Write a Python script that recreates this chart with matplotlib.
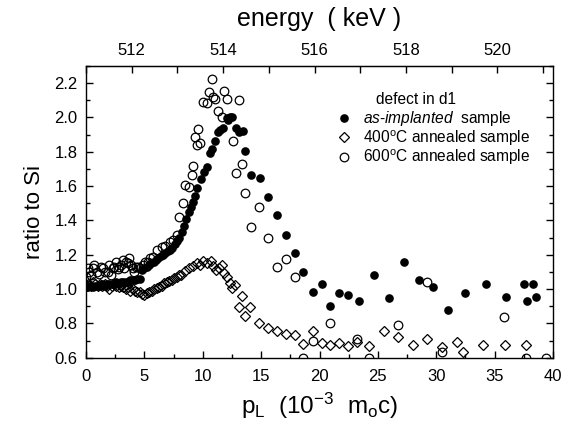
import matplotlib
matplotlib.use("Agg")
import matplotlib.pyplot as plt
from matplotlib.ticker import MultipleLocator, FixedLocator, NullFormatter, FormatStrFormatter

plt.rcParams["font.family"] = ["Liberation Sans", "DejaVu Sans"]
plt.rcParams["mathtext.fontset"] = "custom"
plt.rcParams["mathtext.rm"] = "Liberation Sans"
plt.rcParams["mathtext.it"] = "Liberation Sans:italic"

# ---- data: momentum p_L (10^-3 m0c) and ratio to Si ----
p_implanted = [0.0, 0.2, 0.4, 0.6, 0.8, 1.0, 1.2, 1.4, 1.6, 1.8, 2.0, 2.2, 2.4, 2.6, 2.8,
               3.0, 3.2, 3.4, 3.6, 3.8, 4.0, 4.2, 4.4, 4.6, 4.8, 5.0, 5.2, 5.4, 5.6, 5.8,
               6.0, 6.2, 6.4, 6.6, 6.8, 7.0, 7.2, 7.4, 7.6, 7.8, 8.0, 8.2, 8.4, 8.6, 8.8,
               9.0, 9.15, 9.34, 9.53, 9.82, 10.13, 10.34, 10.62, 10.82, 11.05, 11.28, 11.48,
               11.76, 12.05, 12.14, 12.33, 12.53, 12.85, 13.13, 13.42, 13.62, 14.1, 14.9,
               15.62, 16.4, 17.1, 17.9, 18.6, 19.4, 20.2, 20.9, 21.7, 22.4, 23.4, 24.7,
               25.95, 27.2, 28.5, 29.75, 31.0, 32.5, 34.3, 36.0, 37.5, 37.8, 38.3, 38.5]
r_implanted = [1.01, 1.01, 1.02, 1.01, 1.02, 1.02, 1.02, 1.03, 1.02, 1.03, 1.03, 1.03, 1.03, 1.04, 1.03,
               1.04, 1.04, 1.04, 1.04, 1.05, 1.05, 1.05, 1.06, 1.06, 1.11, 1.12, 1.13, 1.14, 1.15, 1.16,
               1.17, 1.18, 1.19, 1.20, 1.21, 1.22, 1.23, 1.24, 1.26, 1.28, 1.30, 1.33, 1.37, 1.41, 1.45,
               1.48, 1.51, 1.54, 1.59, 1.64, 1.68, 1.71, 1.795, 1.815, 1.865, 1.918, 1.928,
               1.938, 1.996, 1.986, 2.005, 2.00, 1.938, 1.918, 1.922, 1.807, 1.665, 1.646,
               1.535, 1.43, 1.315, 1.21, 1.10, 0.985, 1.03, 0.90, 0.975, 0.964, 0.93, 1.08,
               0.95, 1.16, 1.05, 1.01, 0.88, 0.975, 1.03, 0.955, 1.03, 0.93, 1.03, 0.955]

p_400 = [0.0, 0.2, 0.4, 0.6, 0.8, 1.0, 1.2, 1.4, 1.6, 1.8, 2.0, 2.2, 2.4, 2.6, 2.8,
         3.0, 3.2, 3.4, 3.6, 3.8, 4.0, 4.2, 4.4, 4.6, 4.8, 5.0, 5.2, 5.43, 5.65, 5.85,
         6.05, 6.28, 6.5, 6.7, 6.9, 7.14, 7.35, 7.57, 7.8, 8.0, 8.14, 8.48, 8.85, 9.19,
         9.48, 9.76, 10.05, 10.39, 10.68, 10.9, 11.13, 11.42, 11.62, 11.85, 12.05, 12.33,
         12.48, 12.76, 13.13, 13.33, 13.62, 14.05, 14.85, 15.56, 16.33, 17.13, 17.9,
         18.6, 19.4, 20.2, 20.9, 21.7, 22.4, 23.2, 24.2, 25.5, 26.7, 28.0, 29.2, 30.5,
         31.75, 32.3, 34.0, 35.9, 37.7]
r_400 = [1.02, 1.03, 1.02, 1.04, 1.03, 1.02, 1.03, 1.02, 1.03, 1.02, 1.00, 1.02, 1.03, 1.02, 1.01,
         1.02, 1.01, 1.00, 1.01, 0.99, 1.00, 0.99, 0.98, 0.98, 0.97, 0.966, 0.975, 0.985, 0.99, 0.999,
         1.005, 1.014, 1.02, 1.034, 1.04, 1.049, 1.055, 1.063, 1.07, 1.082, 1.082, 1.107, 1.121, 1.135,
         1.150, 1.141, 1.164, 1.150, 1.164, 1.136, 1.111, 1.121, 1.141, 1.096, 1.072, 1.037,
         1.005, 1.024, 0.897, 0.96, 0.843, 0.897, 0.804, 0.775, 0.756, 0.738, 0.732,
         0.68, 0.756, 0.684, 0.674, 0.687, 0.668, 0.693, 0.668, 0.756, 0.72, 0.672, 0.707, 0.665,
         0.693, 0.635, 0.675, 0.672, 0.676]

p_600 = [0.0, 0.15, 0.28, 0.43, 0.6, 0.71, 0.9, 1.14, 1.3, 1.43, 1.6, 1.86, 2.0, 2.14, 2.3,
         2.43, 2.6, 2.71, 2.85, 3.0, 3.15, 3.28, 3.45, 3.57, 3.71, 3.85, 4.0, 4.14, 4.3, 4.43,
         4.6, 4.85, 5.05, 5.28, 5.48, 5.77, 6.05, 6.48, 6.77, 7.2, 7.48, 7.77, 8.0, 8.28,
         8.48, 8.85, 9.05, 9.19, 9.34, 9.48, 9.62, 9.76, 10.05, 10.34, 10.56, 10.82, 10.9,
         11.05, 11.33, 11.62, 11.82, 12.05, 12.6, 12.85, 13.1, 13.39, 13.6, 14.1, 14.85,
         15.6, 16.4, 17.1, 17.9, 18.6, 19.4, 20.9, 23.2, 24.2, 26.7, 29.2, 30.5, 35.8,
         37.7, 39.4]
r_600 = [1.07, 1.12, 1.10, 1.08, 1.12, 1.14, 1.10, 1.09, 1.13, 1.12, 1.10, 1.10, 1.14, 1.08, 1.12,
         1.13, 1.16, 1.115, 1.13, 1.14, 1.17, 1.12, 1.16, 1.15, 1.18, 1.14, 1.12, 1.10, 1.13, 1.13,
         1.12, 1.14, 1.16, 1.16, 1.18, 1.189, 1.228, 1.247, 1.25, 1.276, 1.286, 1.315, 1.422, 1.50,
         1.607, 1.594, 1.665, 1.718, 1.885, 1.84, 1.933, 1.85, 2.093, 2.087, 2.148, 2.223, 2.12,
         2.11, 2.035, 2.002, 2.155, 2.11, 1.86, 1.675, 2.10, 1.728, 1.562, 1.36, 1.48,
         1.30, 1.127, 1.175, 1.07, 0.60, 0.70, 0.80, 0.71, 0.60, 0.79, 1.04, 0.635, 0.84,
         0.60, 0.60]

labels = [r"$\mathit{as}$-$\mathit{implanted}$  sample",
          r"400$^{\rm o}$C annealed sample",
          r"600$^{\rm o}$C annealed sample"]
legend_title = "defect in d1"


def p_to_energy(p):
    return 511.0 + 0.2555 * p


def energy_to_p(e):
    return (e - 511.0) / 0.2555


fig = plt.figure(figsize=(5.75, 4.28), dpi=100)
ax = fig.add_axes([0.1496, 0.1643, 0.8122, 0.6815])

h1, = ax.plot(p_implanted, r_implanted, "o", ms=5.2, color="black", mec="black",
              linestyle="none", zorder=3)
h2, = ax.plot(p_400, r_400, "D", ms=5.6, mfc="none", mec="black", mew=0.9,
              linestyle="none", zorder=2)
h3, = ax.plot(p_600, r_600, "o", ms=6.2, mfc="none", mec="black", mew=0.9,
              linestyle="none", zorder=2)

ax.set_xlim(0, 40)
ax.set_ylim(0.6, 2.3)
ax.xaxis.set_major_locator(MultipleLocator(5))
ax.xaxis.set_minor_locator(MultipleLocator(2.5))
ax.yaxis.set_major_locator(MultipleLocator(0.2))
ax.yaxis.set_minor_locator(MultipleLocator(0.1))
ax.yaxis.set_major_formatter(FormatStrFormatter("%.1f"))
ax.tick_params(which="both", direction="in", bottom=True, left=True, right=True,
               top=False, labelsize=12, width=1.0)
ax.tick_params(which="major", length=5)
ax.tick_params(which="minor", length=3)
ax.tick_params(axis="x", pad=8)
ax.tick_params(axis="y", pad=6)
for s in ax.spines.values():
    s.set_linewidth(1.0)

ax.set_xlabel(r"p$_{\rm L}$  (10$^{{-}3}$  m$_{\rm o}$c)", fontsize=17.5, labelpad=5)
ax.set_ylabel("ratio to Si", fontsize=16, labelpad=7)

top = ax.secondary_xaxis("top", functions=(p_to_energy, energy_to_p))
top.xaxis.set_major_locator(FixedLocator([512, 514, 516, 518, 520]))
top.xaxis.set_minor_locator(FixedLocator([511, 513, 515, 517, 519, 521]))
top.xaxis.set_minor_formatter(NullFormatter())
top.tick_params(which="both", direction="in", length=5, width=1.0, labelsize=12, pad=6)
top.set_xlabel("energy  ( keV )", fontsize=18, labelpad=12)

leg = ax.legend([h1, h2, h3], labels, loc="upper left",
                bbox_to_anchor=(0.535, 0.852), frameon=False, fontsize=11.2,
                handlelength=1.0, handletextpad=0.75, labelspacing=0.0,
                borderaxespad=0.0, borderpad=0.0)
ax.text(0.62, 0.858, legend_title, transform=ax.transAxes, fontsize=11.2,
        ha="left", va="bottom")

fig.savefig("out.png", dpi=100)
